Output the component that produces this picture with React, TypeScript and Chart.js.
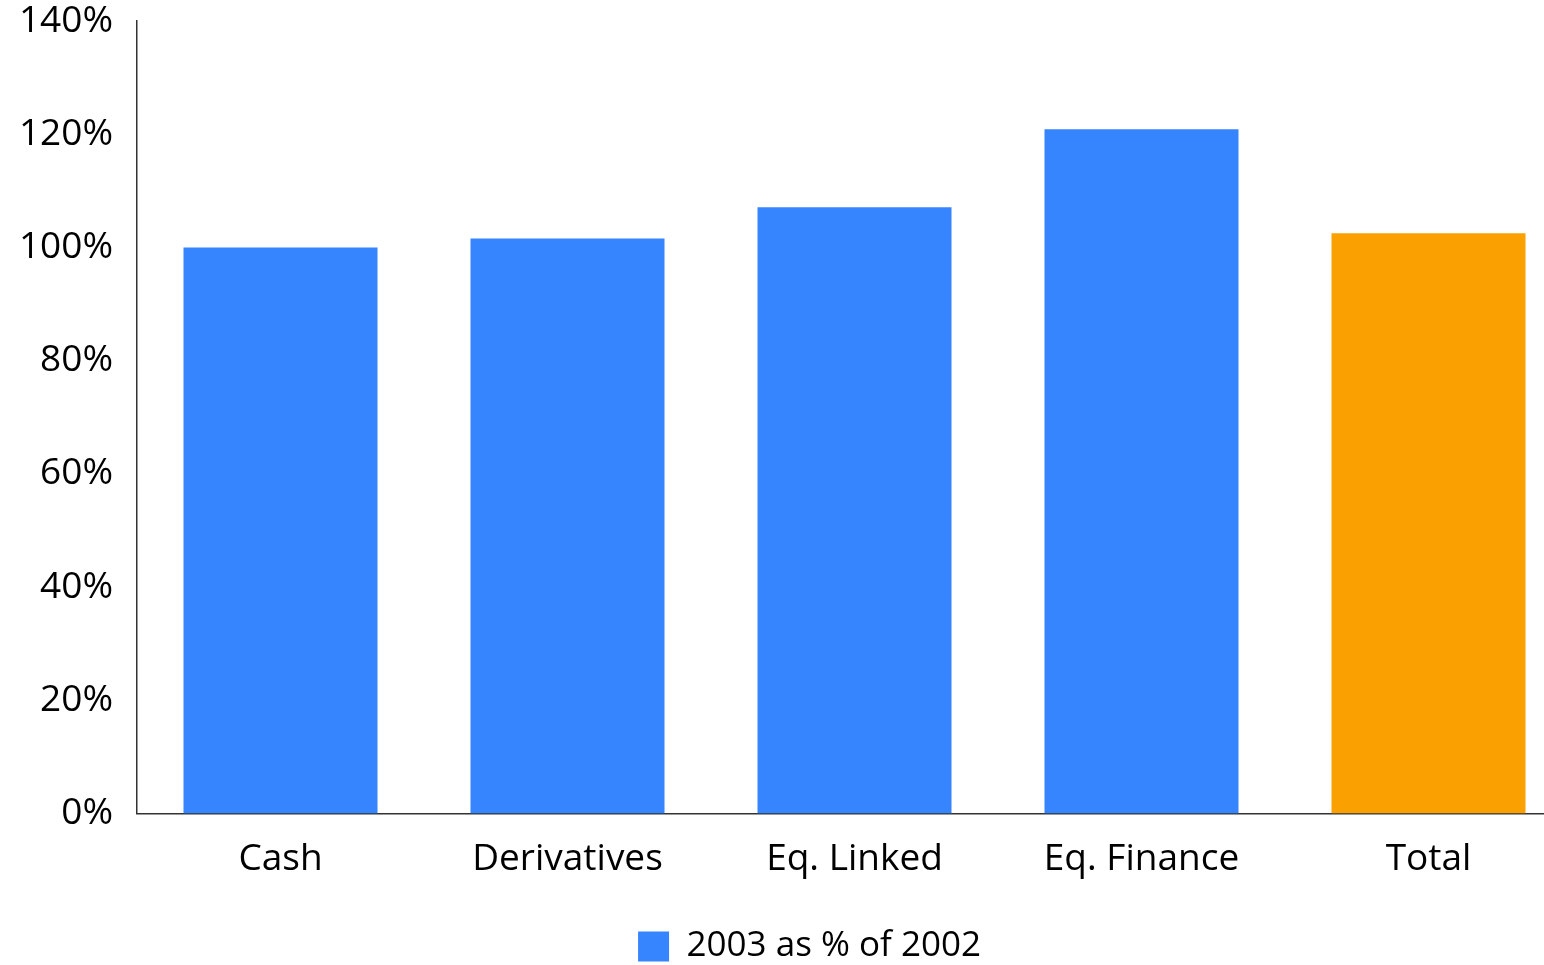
import React, { useEffect, useRef } from "react";
import { Chart, registerables } from "chart.js";

Chart.register(...registerables);

const categories = ["Cash", "Derivatives", "Eq. Linked", "Eq. Finance", "Total"];
const values2003vs2002 = [100, 101.6, 107.1, 120.9, 102.5];
const barColors = ["#3784FF", "#3784FF", "#3784FF", "#3784FF", "#FAA000"];
const seriesLabel = "2003 as % of 2002";
const yTicks = [0, 20, 40, 60, 80, 100, 120, 140];

const FONT = "'Open Sans', 'Noto Sans', sans-serif";

export default function App() {
  const ref = useRef<HTMLCanvasElement | null>(null);

  useEffect(() => {
    if (!ref.current) return;
    const chart = new Chart(ref.current, {
      type: "bar",
      data: {
        labels: categories,
        datasets: [
          {
            label: seriesLabel,
            data: values2003vs2002,
            backgroundColor: barColors,
            borderWidth: 0,
            categoryPercentage: 1,
            barPercentage: 0.676,
          },
        ],
      },
      options: {
        animation: false,
        responsive: false,
        maintainAspectRatio: false,
        layout: { padding: { top: 21, right: 0, bottom: -9, left: 0 } },
        plugins: {
          tooltip: { enabled: false },
          legend: {
            display: true,
            position: "bottom",
            labels: {
              boxWidth: 31,
              boxHeight: 30,
              color: "#000",
              font: { family: FONT, size: 35 },
              padding: 10,
            },
          },
        },
        scales: {
          x: {
            grid: { display: false, drawTicks: false },
            border: { display: true, color: "#333", width: 1.5 },
            afterFit: (scale: any) => {
              scale.height += 13;
              scale.paddingLeft = 0;
              scale.paddingRight = 0;
            },
            ticks: {
              color: "#000",
              font: { family: FONT, size: 37 },
              padding: 24,
              maxRotation: 0,
              autoSkip: false,
            },
          },
          y: {
            min: 0,
            max: 140,
            grid: { display: false, drawTicks: false },
            border: { display: true, color: "#333", width: 1.5 },
            afterBuildTicks: (scale: any) => {
              scale.ticks = yTicks.map((v) => ({ value: v }));
            },
            afterFit: (scale: any) => {
              scale.width = 137;
              scale.paddingTop = 0;
              scale.paddingBottom = 0;
            },
            ticks: {
              color: "#000",
              font: { family: FONT, size: 37 },
              padding: 24,
              callback: (v: any) => `${v}%`,
            },
          },
          yRight: {
            position: "right",
            min: 0,
            max: 140,
            grid: { display: false, drawTicks: false },
            border: { display: false },
            ticks: { display: false },
            afterFit: (scale: any) => {
              scale.width = 47;
              scale.paddingTop = 0;
              scale.paddingBottom = 0;
            },
          },
        },
      },
    });
    return () => chart.destroy();
  }, []);

  return (
    <div
      style={{
        position: "fixed",
        left: 0,
        top: 0,
        width: 1544,
        height: 965,
        overflow: "hidden",
        background: "#fff",
      }}
    >
      <canvas ref={ref} width={1619} height={965} style={{ display: "block" }} />
    </div>
  );
}
